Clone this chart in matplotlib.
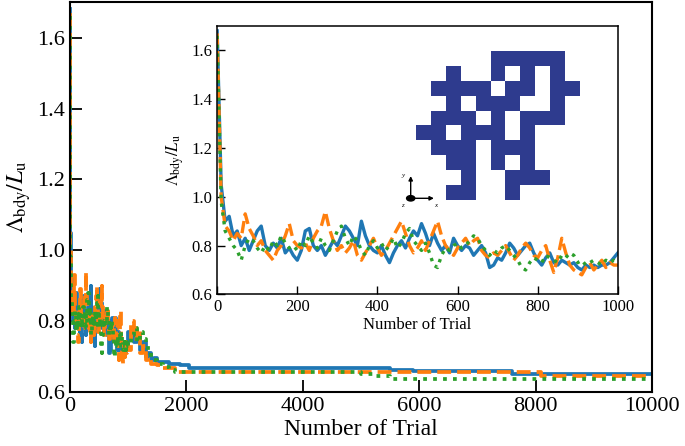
import numpy as np
import matplotlib.pyplot as plt

plt.rcParams["font.family"] = ["Liberation Serif", "DejaVu Serif"]
plt.rcParams["mathtext.fontset"] = "stix"

# inset data: trials 0..1000, one value every 10 trials
trial_inset = np.arange(0, 1001, 10)
blue_inset = [1.68, 1.05, 0.90, 0.92, 0.84, 0.86, 0.80, 0.83, 0.78, 0.82,
              0.86, 0.88, 0.80, 0.78, 0.81, 0.79, 0.83, 0.77, 0.79, 0.76,
              0.74, 0.78, 0.86, 0.87, 0.80, 0.78, 0.80, 0.76, 0.79, 0.82,
              0.80, 0.84, 0.88, 0.86, 0.83, 0.80, 0.90, 0.84, 0.80, 0.78,
              0.77, 0.80, 0.76, 0.73, 0.77, 0.80, 0.82, 0.79, 0.83, 0.86,
              0.84, 0.89, 0.85, 0.80, 0.85, 0.81, 0.78, 0.80, 0.77, 0.83,
              0.80, 0.78, 0.80, 0.79, 0.76, 0.78, 0.80, 0.77, 0.71, 0.72,
              0.75, 0.74, 0.77, 0.81, 0.79, 0.76, 0.78, 0.80, 0.81, 0.77,
              0.74, 0.72, 0.75, 0.77, 0.73, 0.72, 0.74, 0.73, 0.72, 0.73,
              0.71, 0.70, 0.72, 0.71, 0.72, 0.71, 0.72, 0.72, 0.73, 0.75, 0.77]
orange_inset = [1.67, 1.00, 0.88, 0.86, 0.82, 0.85, 0.83, 0.93, 0.87, 0.84,
                0.80, 0.82, 0.78, 0.76, 0.74, 0.78, 0.80, 0.84, 0.89, 0.82,
                0.80, 0.79, 0.81, 0.78, 0.83, 0.86, 0.88, 0.94, 0.87, 0.82,
                0.78, 0.80, 0.77, 0.79, 0.82, 0.76, 0.74, 0.77, 0.80, 0.83,
                0.79, 0.76, 0.78, 0.81, 0.84, 0.87, 0.90, 0.85, 0.80, 0.77,
                0.79, 0.82, 0.78, 0.82, 0.86, 0.90, 0.84, 0.80, 0.78, 0.76,
                0.79, 0.81, 0.83, 0.80, 0.82, 0.83, 0.78, 0.76, 0.75, 0.77,
                0.76, 0.78, 0.80, 0.77, 0.74, 0.76, 0.79, 0.81, 0.79, 0.76,
                0.75, 0.78, 0.80, 0.74, 0.69, 0.75, 0.83, 0.77, 0.72, 0.70,
                0.69, 0.68, 0.71, 0.73, 0.70, 0.72, 0.74, 0.71, 0.73, 0.72, 0.72]
green_inset = [1.66, 0.98, 0.86, 0.83, 0.80, 0.78, 0.74, 0.80, 0.83, 0.82,
               0.79, 0.77, 0.80, 0.78, 0.82, 0.80, 0.84, 0.81, 0.79, 0.80,
               0.78, 0.82, 0.80, 0.84, 0.81, 0.79, 0.83, 0.80, 0.78, 0.82,
               0.86, 0.88, 0.83, 0.80, 0.84, 0.82, 0.78, 0.76, 0.80, 0.82,
               0.79, 0.81, 0.78, 0.80, 0.83, 0.79, 0.81, 0.85, 0.87, 0.82,
               0.80, 0.78, 0.81, 0.77, 0.72, 0.71, 0.76, 0.79, 0.78, 0.80,
               0.81, 0.79, 0.80, 0.82, 0.84, 0.83, 0.80, 0.78, 0.76, 0.78,
               0.77, 0.79, 0.80, 0.78, 0.76, 0.74, 0.71, 0.70, 0.73, 0.75,
               0.74, 0.73, 0.76, 0.75, 0.74, 0.73, 0.76, 0.75, 0.77, 0.76,
               0.73, 0.74, 0.72, 0.73, 0.74, 0.73, 0.72, 0.74, 0.73, 0.74, 0.73]

# main plot continues after trial 1000
blue_ext_t = [1050, 1100, 1150, 1200, 1250, 1300, 1350, 1400, 1450, 1500, 1700, 1900, 2050, 5500, 5900, 7600, 10000]
blue_ext_v = [0.77, 0.74, 0.76, 0.72, 0.74, 0.70, 0.71, 0.69, 0.695, 0.685, 0.68, 0.675, 0.668, 0.662, 0.658, 0.650, 0.650]
orange_ext_t = [1050, 1100, 1150, 1200, 1250, 1300, 1350, 1400, 1500, 1600, 1800, 8100, 10000]
orange_ext_v = [0.80, 0.75, 0.78, 0.71, 0.73, 0.69, 0.70, 0.68, 0.675, 0.668, 0.657, 0.645, 0.645]
green_ext_t = [1050, 1100, 1150, 1200, 1250, 1300, 1350, 1400, 1500, 1600, 1700, 1800, 5000, 5200, 5500, 10000]
green_ext_v = [0.76, 0.78, 0.74, 0.77, 0.75, 0.73, 0.71, 0.69, 0.68, 0.67, 0.663, 0.657, 0.652, 0.645, 0.637, 0.637]

# lattice picture in the inset (1 = occupied site)
cluster = [[0, 0, 0, 0, 0, 1, 1, 1, 1, 1, 0],
           [0, 0, 1, 0, 0, 1, 0, 1, 0, 1, 0],
           [0, 1, 1, 1, 1, 0, 1, 1, 0, 1, 1],
           [0, 0, 1, 0, 1, 1, 1, 0, 0, 1, 0],
           [0, 1, 1, 1, 0, 1, 0, 1, 1, 1, 0],
           [1, 1, 0, 1, 1, 1, 0, 1, 0, 0, 0],
           [0, 1, 1, 1, 0, 1, 1, 1, 0, 0, 0],
           [0, 0, 1, 1, 0, 1, 0, 1, 0, 0, 0],
           [0, 0, 0, 1, 0, 0, 1, 1, 1, 0, 0],
           [0, 0, 1, 1, 0, 0, 1, 0, 0, 0, 0]]

c_blue = "#1f77b4"
c_orange = "#ff7f0e"
c_green = "#2ca02c"

fig = plt.figure(figsize=(6.85, 4.46), dpi=100)

# ---- main axes ----
ax = fig.add_axes([0.102, 0.121, 0.850, 0.874])
main_t = list(trial_inset)
ax.plot(main_t + blue_ext_t, blue_inset + blue_ext_v, color=c_blue, lw=2.7, ls="-", drawstyle="steps-post")
ax.plot(main_t + orange_ext_t, orange_inset + orange_ext_v, color=c_orange, lw=2.7, ls="--", drawstyle="steps-post")
ax.plot(main_t + green_ext_t, green_inset + green_ext_v, color=c_green, lw=2.7, ls=":", drawstyle="steps-post")
ax.set_xlim(0, 10000)
ax.set_ylim(0.6, 1.7)
ax.set_xticks([0, 2000, 4000, 6000, 8000, 10000])
ax.set_yticks([0.6, 0.8, 1.0, 1.2, 1.4, 1.6])
ax.set_yticklabels(["0.6", "0.8", "1.0", "1.2", "1.4", "1.6"])
ax.tick_params(direction="in", length=8.5, width=1.3, labelsize=16, top=False, right=False)
for s in ax.spines.values():
    s.set_linewidth(1.5)
ax.set_xlabel("Number of Trial", fontsize=17, labelpad=2)
ax.set_ylabel(r"$\Lambda_{\rm bdy}/L_{\rm u}$", fontsize=17, labelpad=3)

# ---- inset ----
ins = fig.add_axes([0.317, 0.340, 0.585, 0.6016])
ins.plot(trial_inset, blue_inset, color=c_blue, lw=2.4, ls="-")
ins.plot(trial_inset, orange_inset, color=c_orange, lw=2.4, ls="--")
ins.plot(trial_inset, green_inset, color=c_green, lw=2.4, ls=":")
ins.set_xlim(0, 1000)
ins.set_ylim(0.6, 1.7)
ins.set_xticks([0, 200, 400, 600, 800, 1000])
ins.set_yticks([0.6, 0.8, 1.0, 1.2, 1.4, 1.6])
ins.set_yticklabels(["0.6", "0.8", "1.0", "1.2", "1.4", "1.6"])
ins.tick_params(direction="in", length=6, width=1.0, labelsize=12, top=False, right=False)
for s in ins.spines.values():
    s.set_linewidth(1.1)
ins.set_xlabel("Number of Trial", fontsize=12, labelpad=1)
ins.set_ylabel(r"$\Lambda_{\rm bdy}/L_{\rm u}$", fontsize=12, labelpad=4)

# ---- cluster picture ----
cax = fig.add_axes([0.607, 0.5516, 0.2394, 0.334])
cax.imshow(np.array(cluster), cmap=plt.matplotlib.colors.ListedColormap(["white", "#2e3b8e"]),
           interpolation="nearest", aspect="auto")
cax.axis("off")

# small coordinate triad
ox, oy = 410.7 / 685, 1 - 198.3 / 446
fig.patches.append(plt.Circle((ox, oy), 0.006, transform=fig.transFigure, color="black",
                              figure=fig))
fig.add_artist(plt.matplotlib.patches.FancyArrowPatch((ox, oy), (ox, oy + 25 / 446), transform=fig.transFigure,
                                                       arrowstyle="-|>", mutation_scale=6, lw=1, color="black"))
fig.add_artist(plt.matplotlib.patches.FancyArrowPatch((ox, oy), (ox + 26 / 685, oy), transform=fig.transFigure,
                                                       arrowstyle="-|>", mutation_scale=6, lw=1, color="black"))
fig.text(ox - 8 / 685, oy + 23 / 446, "y", fontsize=5, style="italic", ha="center", va="center")
fig.text(ox + 25 / 685, oy - 7 / 446, "x", fontsize=5, style="italic", ha="center", va="center")
fig.text(ox - 8 / 685, oy - 7 / 446, "z", fontsize=5, style="italic", ha="center", va="center")

fig.savefig("out.png", dpi=100)
